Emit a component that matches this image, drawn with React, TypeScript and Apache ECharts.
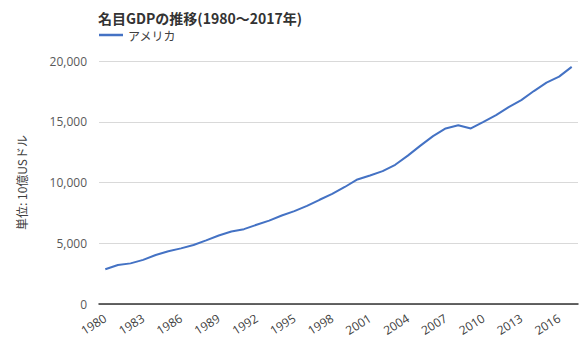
import React, { useEffect, useRef } from "react";
import * as echarts from "echarts";

const years = [
  "1980","1981","1982","1983","1984","1985","1986","1987","1988","1989",
  "1990","1991","1992","1993","1994","1995","1996","1997","1998","1999",
  "2000","2001","2002","2003","2004","2005","2006","2007","2008","2009",
  "2010","2011","2012","2013","2014","2015","2016","2017",
];
const usaGdp = [
  2857, 3207, 3344, 3634, 4037, 4339, 4580, 4855, 5236, 5642,
  5963, 6158, 6520, 6859, 7287, 7640, 8073, 8578, 9063, 9631,
  10252, 10582, 10936, 11458, 12214, 13037, 13815, 14452, 14713, 14449,
  14992, 15543, 16197, 16785, 17527, 18225, 18715, 19519,
];
const seriesName = "アメリカ";
const titleText = "名目GDPの推移(1980～2017年)";
const yAxisName = "単位: 10億USドル";

const FONT = "'Open Sans', 'Noto Sans CJK JP', sans-serif";
const CJK = "'Noto Sans CJK JP', sans-serif";

export default function App() {
  const ref = useRef<HTMLDivElement>(null);
  useEffect(() => {
    if (!ref.current) return;
    const chart = echarts.init(ref.current, undefined, { renderer: "svg" });
    chart.setOption({
      animation: false,
      textStyle: { fontFamily: FONT },
      title: {
        text: titleText,
        left: 93,
        top: 6,
        textStyle: { fontSize: 14, fontWeight: "bold", color: "#333", fontFamily: CJK },
      },
      legend: {
        left: 99,
        top: 29,
        icon: "rect",
        itemWidth: 24,
        itemHeight: 2.5,
        itemGap: 10,
        padding: 0,
        textStyle: { fontSize: 12, color: "#404040", fontFamily: CJK },
        data: [seriesName],
      },
      grid: { left: 99, right: 8, top: 61, bottom: 50, containLabel: false },
      xAxis: {
        type: "category",
        data: years,
        boundaryGap: true,
        axisLine: { lineStyle: { color: "#333", width: 1.5 } },
        axisTick: { show: false },
        axisLabel: {
          interval: 2,
          rotate: 32,
          fontSize: 12,
          color: "#404040",
          margin: 13,
          fontFamily: FONT,
        },
      },
      yAxis: {
        type: "value",
        min: 0,
        max: 20000,
        interval: 5000,
        name: yAxisName,
        nameLocation: "middle",
        nameRotate: 90,
        nameGap: 72,
        nameTextStyle: { fontSize: 12, color: "#404040", fontFamily: CJK },
        axisLine: { show: false },
        axisTick: { show: false },
        splitLine: { lineStyle: { color: "#d9d9d9" } },
        axisLabel: {
          fontSize: 12,
          color: "#595959",
          margin: 12,
          fontFamily: FONT,
          formatter: (v: number) => v.toLocaleString("en-US"),
        },
      },
      series: [
        {
          name: seriesName,
          type: "line",
          data: usaGdp,
          symbol: "none",
          showSymbol: false,
          lineStyle: { color: "#4472C4", width: 2 },
          itemStyle: { color: "#4472C4" },
        },
      ],
    });
    return () => chart.dispose();
  }, []);
  return (
    <div
      ref={ref}
      style={{ position: "absolute", left: 0, top: 0, width: 586, height: 354 }}
    />
  );
}
